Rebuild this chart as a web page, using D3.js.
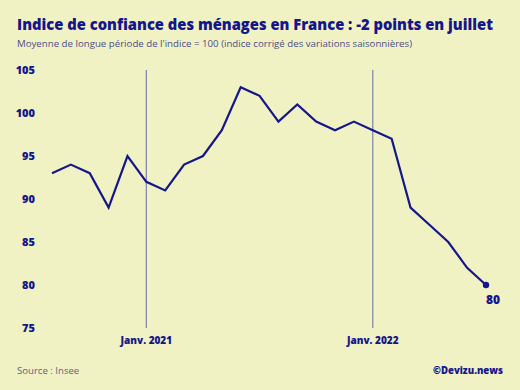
<!DOCTYPE html>
<html>
<head>
<meta charset="utf-8">
<script src="https://cdn.jsdelivr.net/npm/d3@7"></script>
<style>
  body { margin: 0; background: #f1f2c4; }
  text { font-family: "Open Sans", sans-serif; }
</style>
</head>
<body>
<svg id="chart" width="520" height="390"></svg>
<script>
// months Aug 2020 -> Jul 2022
const months = ["2020-08","2020-09","2020-10","2020-11","2020-12",
  "2021-01","2021-02","2021-03","2021-04","2021-05","2021-06","2021-07","2021-08","2021-09","2021-10","2021-11","2021-12",
  "2022-01","2022-02","2022-03","2022-04","2022-05","2022-06","2022-07"];
const values = [93, 94, 93, 89, 95, 92, 91, 94, 95, 98, 103, 102, 99, 101, 99, 98, 99, 98, 97, 89, 87, 85, 82, 80];
const yTicks = [75, 80, 85, 90, 95, 100, 105];
const markers = ["2021-01", "2022-01"];
const markerLabels = ["Janv. 2021", "Janv. 2022"];

const navy = "#15168a";
const svg = d3.select("#chart");
svg.append("rect").attr("width", 520).attr("height", 390).attr("fill", "#f1f2c4");

const x = d3.scalePoint().domain(months).range([52, 486]);
const y = d3.scaleLinear().domain([75, 105]).range([328, 70]);

// titles
svg.append("text").attr("x", 17).attr("y", 30)
  .attr("font-size", 15.5).attr("font-weight", 800).attr("fill", navy)
  .attr("textLength", 476).attr("lengthAdjust", "spacingAndGlyphs")
  .text("Indice de confiance des ménages en France : -2 points en juillet");
svg.append("text").attr("x", 17).attr("y", 47)
  .attr("font-size", 9.6).attr("fill", "#4b4d86")
  .attr("textLength", 395).attr("lengthAdjust", "spacingAndGlyphs")
  .text("Moyenne de longue période de l'indice = 100 (indice corrigé des variations saisonnières)");

// y labels
svg.append("g").selectAll("text").data(yTicks).join("text")
  .attr("x", 35).attr("y", d => y(d) + 4)
  .attr("text-anchor", "end")
  .attr("font-size", 11).attr("font-weight", 800).attr("fill", navy)
  .text(d => d);

// January markers
const mk = svg.append("g").selectAll("g").data(markers).join("g");
mk.append("line")
  .attr("x1", d => x(d)).attr("x2", d => x(d))
  .attr("y1", y(105)).attr("y2", y(75))
  .attr("stroke", "#8489ad").attr("stroke-width", 1.3);
mk.append("text")
  .attr("x", d => x(d)).attr("y", 344)
  .attr("text-anchor", "middle")
  .attr("font-size", 10).attr("font-weight", 800).attr("fill", navy)
  .text((d, i) => markerLabels[i]);

// line
const line = d3.line()
  .x((d, i) => x(months[i]))
  .y(d => y(d));
svg.append("path").datum(values)
  .attr("d", line)
  .attr("fill", "none").attr("stroke", navy)
  .attr("stroke-width", 2.2).attr("stroke-linejoin", "miter");

const last = values.length - 1;
svg.append("circle")
  .attr("cx", x(months[last])).attr("cy", y(values[last])).attr("r", 3.2)
  .attr("fill", navy);
svg.append("text")
  .attr("x", x(months[last]) + 7).attr("y", y(values[last]) + 19)
  .attr("text-anchor", "middle")
  .attr("font-size", 12).attr("font-weight", 800).attr("fill", navy)
  .text(values[last]);

// footer
svg.append("text").attr("x", 17).attr("y", 374)
  .attr("font-size", 9.6).attr("fill", "#5c5e8e")
  .text("Source : Insee");
svg.append("text").attr("x", 503).attr("y", 374)
  .attr("text-anchor", "end")
  .attr("font-size", 9.6).attr("font-weight", 800).attr("fill", navy)
  .text("©Devizu.news");
</script>
</body>
</html>
